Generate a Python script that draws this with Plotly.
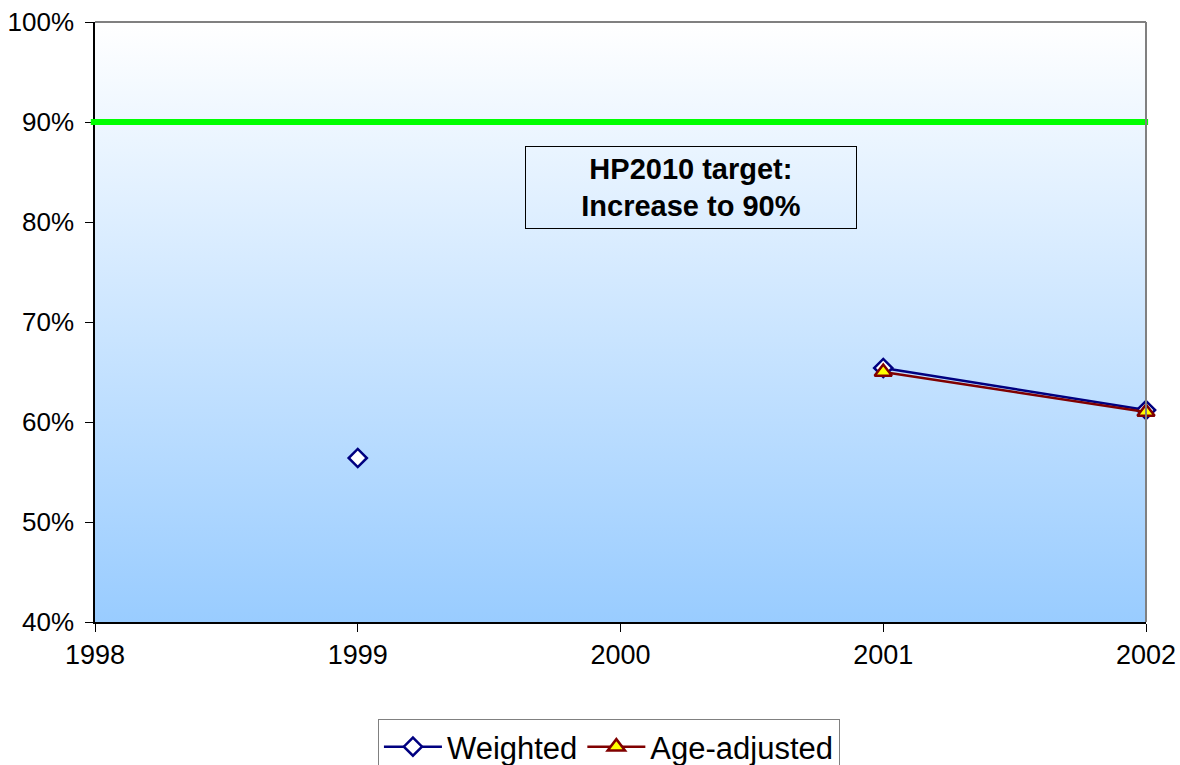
import plotly.graph_objects as go

years = [1999, 2000, 2001, 2002]
weighted = [56.4, None, 65.4, 61.2]
age_adjusted = [None, None, 65.0, 61.0]
target = 90
y_ticks = [40, 50, 60, 70, 80, 90, 100]
x_ticks = [1998, 1999, 2000, 2001, 2002]

FONT = "Liberation Sans, Arial, sans-serif"

fig = go.Figure()

# gradient plot background
fig.add_trace(go.Scatter(
    x=[1998, 2002, 2002, 1998, 1998], y=[40, 40, 100, 100, 40],
    fill="toself", mode="none", hoverinfo="skip", showlegend=False,
    fillgradient=dict(type="vertical", colorscale=[[0, "#99CCFF"], [1, "#FFFFFF"]]),
))

fig.add_trace(go.Scatter(
    x=years, y=weighted, name="Weighted", mode="lines+markers",
    connectgaps=False, cliponaxis=False,
    line=dict(color="#000080", width=2.5),
    marker=dict(symbol="diamond", size=14, color="#FFFFFF",
                line=dict(color="#000080", width=2.5)),
))
fig.add_trace(go.Scatter(
    x=years, y=age_adjusted, name="Age-adjusted", mode="lines+markers",
    cliponaxis=False,
    line=dict(color="#800000", width=2.5),
    marker=dict(symbol="triangle-up", size=15, color="#FFFF00",
                line=dict(color="#800000", width=2.5)),
))

# target line
fig.add_shape(type="line", xref="paper", yref="y", x0=-0.004, x1=1.002,
              y0=target, y1=target, line=dict(color="#00FF00", width=6))
# grey top/right border
fig.add_shape(type="line", xref="paper", yref="paper", x0=0, x1=1, y0=1, y1=1,
              line=dict(color="#808080", width=2))
fig.add_shape(type="line", xref="paper", yref="paper", x0=1, x1=1, y0=0, y1=1,
              line=dict(color="#808080", width=2))

fig.add_annotation(
    x=2000.27, y=83.5, xref="x", yref="y",
    text="<b>HP2010 target:<br>Increase to 90%</b>", showarrow=False,
    font=dict(family=FONT, size=29, color="#000000"),
    bordercolor="#000000", borderwidth=1, borderpad=2,
    width=326, height=77, align="center",
)

fig.update_xaxes(
    range=[1998, 2002], tickvals=x_ticks, ticktext=[str(v) for v in x_ticks],
    showgrid=False, zeroline=False, showline=True, linecolor="#000000", linewidth=1.5,
    ticks="outside", ticklen=8, tickcolor="#000000", automargin=False,
    ticklabeloverflow="allow",
    tickfont=dict(family=FONT, size=27, color="#000000"),
)
fig.update_yaxes(
    range=[40, 100], tickvals=y_ticks, ticktext=[f"{v}%" for v in y_ticks],
    showgrid=False, zeroline=False, showline=True, linecolor="#000000", linewidth=1.5,
    ticks="outside", ticklen=8, tickcolor="#000000", automargin=False,
    ticklabelstandoff=6, ticklabeloverflow="allow",
    tickfont=dict(family=FONT, size=26, color="#000000"),
)

W, H = 1180, 765
fig.update_layout(
    width=W, height=H,
    margin=dict(l=95, r=34, t=22, b=143),
    paper_bgcolor="#FFFFFF", plot_bgcolor="#FFFFFF",
    font=dict(family=FONT, size=26, color="#000000"),
    showlegend=True,
    legend=dict(orientation="h", x=0.489, xanchor="center",
                yref="container", y=1 - 719 / H, yanchor="top",
                bordercolor="#808080", borderwidth=1, bgcolor="#FFFFFF",
                font=dict(family=FONT, size=31), itemwidth=58),
)

fig.write_html(
    "out.html",
    config={"displayModeBar": False},
    post_script="document.body.style.margin='0';document.body.style.overflow='hidden';",
)
